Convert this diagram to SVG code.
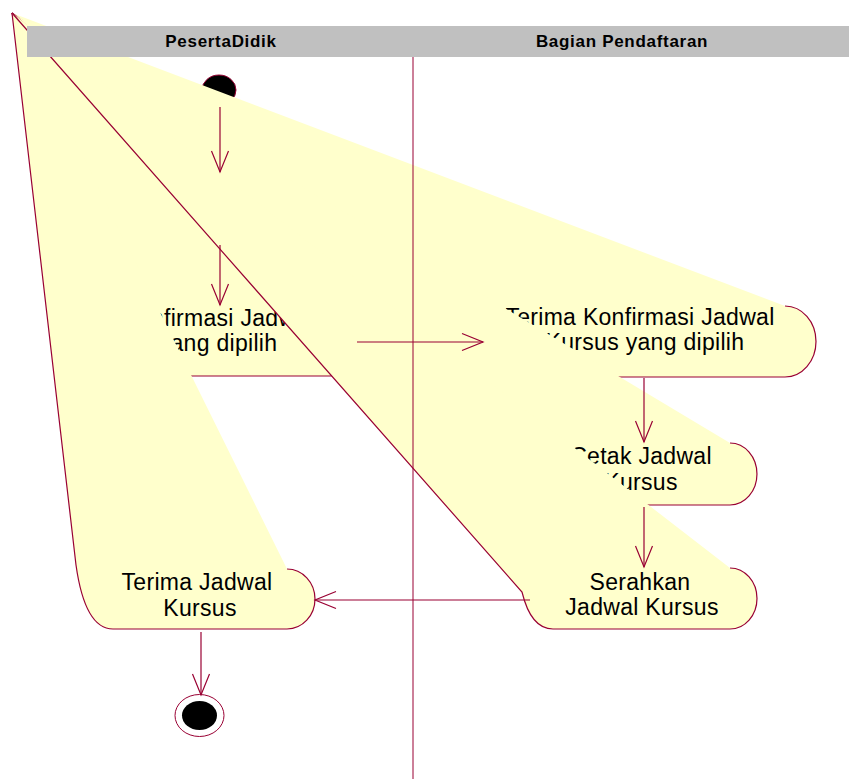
<svg xmlns="http://www.w3.org/2000/svg" width="849" height="779" viewBox="0 0 849 779">
  <style>
    .act { fill: #FFFFCC; stroke: none; }
    .edge { fill: none; stroke: #990033; stroke-width: 1.2; }
    .lbl { font-family: "Liberation Sans", Arial, sans-serif; font-size: 23px; letter-spacing: 0.3px; fill: #000; text-anchor: middle; }
    .lane { font-family: "Liberation Sans", Arial, sans-serif; font-size: 17px; font-weight: bold; letter-spacing: 0.7px; fill: #000; text-anchor: middle; }
    .flow { fill: none; stroke: #990033; stroke-width: 1.2; marker-end: url(#open); }
  </style>
  <defs>
    <marker id="open" markerUnits="userSpaceOnUse" viewBox="0 0 24 20" refX="22" refY="10" markerWidth="24" markerHeight="20" orient="auto">
      <path d="M1,1.5 L22,10 L1,18.5" fill="none" stroke="#990033" stroke-width="1.2"/>
    </marker>
  </defs>
  <rect width="849" height="779" fill="#fff"/>

  <!-- initial state -->
  <g id="start">
    <ellipse cx="219" cy="90" rx="17" ry="15" fill="#000" stroke="#990033" stroke-width="1"/>
  </g>

  <g id="konfirmasi">
    <path class="act" d="M12,13 L330,305 A28 35.5 0 0 1 330,376 L110,376 Q90,376 85,340 L12,13 Z"/>
    <path class="edge" d="M330,305 A28 35.5 0 0 1 330,376 L110,376 Q90,376 85,340 L12,13"/>
    <text class="lbl" x="218" y="326">Konfirmasi Jadwal</text>
    <text class="lbl" x="218" y="351">yang dipilih</text>
  </g>

  <g id="terima-konfirmasi">
    <path class="act" d="M12,13 L785,306 A31 35.5 0 0 1 785,377 L500,377 Q480,377 475,350 L12,13 Z"/>
    <path class="edge" d="M785,306 A31 35.5 0 0 1 785,377 L500,377 Q480,377 475,350 L12,13"/>
    <text class="lbl" x="640" y="325">Terima Konfirmasi Jadwal</text>
    <text class="lbl" x="645" y="350">Kursus yang dipilih</text>
  </g>

  <g id="cetak">
    <path class="act" d="M12,13 L730,443 A27 31 0 0 1 730,505 L570,505 Q550,505 545,480 L12,13 Z"/>
    <path class="edge" d="M730,443 A27 31 0 0 1 730,505 L570,505 Q550,505 545,480 L12,13"/>
    <text class="lbl" x="641" y="464">Cetak Jadwal</text>
    <text class="lbl" x="641" y="490">Kursus</text>
  </g>

  <g id="serahkan">
    <path class="act" d="M12,13 L730,568 A27 30.5 0 0 1 730,629 L553,629 Q531,629 522,592 L12,13 Z"/>
    <path class="edge" d="M730,568 A27 30.5 0 0 1 730,629 L553,629 Q531,629 522,592 L12,13"/>
    <text class="lbl" x="640" y="590">Serahkan</text>
    <text class="lbl" x="642" y="615">Jadwal Kursus</text>
  </g>

  <g id="terima-jadwal">
    <path class="act" d="M12,13 L287,569 A28 30 0 0 1 287,629 L113,629 Q85,629 76,565 L12,13 Z"/>
    <path class="edge" d="M287,569 A28 30 0 0 1 287,629 L113,629 Q85,629 76,565 L12,13"/>
    <text class="lbl" x="197" y="590">Terima Jadwal</text>
    <text class="lbl" x="200" y="616">Kursus</text>
  </g>

  <!-- swimlanes -->
  <g id="lanes">
    <rect x="27" y="26" width="822" height="31" fill="#C0C0C0"/>
    <text class="lane" x="221" y="47">PesertaDidik</text>
    <text class="lane" x="622" y="47">Bagian Pendaftaran</text>
    <line x1="413" y1="57" x2="413" y2="779" stroke="#990033" stroke-width="1"/>
  </g>

  <!-- final state -->
  <g id="end">
    <ellipse cx="199.5" cy="715.5" rx="24.5" ry="21" fill="#fff" stroke="#990033" stroke-width="1"/>
    <ellipse cx="199.5" cy="715.5" rx="17.5" ry="14.5" fill="#000"/>
  </g>

  <g id="connectors">
    <path class="flow" d="M220,107 L220,172"/>
    <path class="flow" d="M220,245 L220,305"/>
    <path class="flow" d="M357,342 L483,342"/>
    <path class="flow" d="M644,378 L644,442"/>
    <path class="flow" d="M644,507 L644,567"/>
    <path class="flow" d="M530,600 L315,600"/>
    <path class="flow" d="M201,632 L201,695"/>
  </g>
</svg>
